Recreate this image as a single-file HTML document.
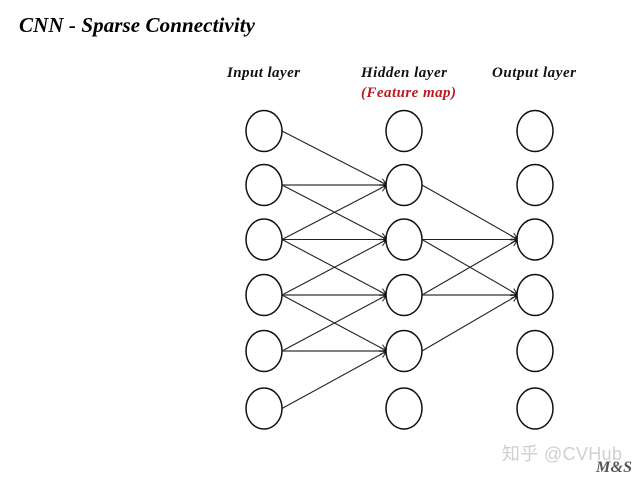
<!DOCTYPE html>
<html>
<head>
<meta charset="utf-8">
<style>
html,body{margin:0;padding:0;background:#fff;}
svg{display:block;}
.t{font-family:"Liberation Serif",serif;font-weight:bold;font-style:italic;}
</style>
</head>
<body>
<svg width="638" height="479" viewBox="0 0 638 479" xmlns="http://www.w3.org/2000/svg">
<defs>
<marker id="a" markerUnits="userSpaceOnUse" markerWidth="10" markerHeight="10" refX="9" refY="5" orient="auto">
<path d="M2,1.500 L9,5 L2,8.500" fill="none" stroke="#222" stroke-width="1"/>
<path d="M5.500,3.600 L9,5 L5.500,6.400 Z" fill="#111"/>
</marker>
</defs>
<rect width="638" height="479" fill="#fff"/>
<text class="t" x="19" y="32" font-size="21" fill="#000" textLength="236" lengthAdjust="spacing">CNN - Sparse Connectivity</text>
<text class="t" x="227" y="77" font-size="15" fill="#111" textLength="73" lengthAdjust="spacing">Input layer</text>
<text class="t" x="361" y="77" font-size="15" fill="#111" textLength="86" lengthAdjust="spacing">Hidden layer</text>
<text class="t" x="492" y="77" font-size="15" fill="#111" textLength="84" lengthAdjust="spacing">Output layer</text>
<text class="t" x="361" y="97" font-size="15" fill="#bb1a20" textLength="95" lengthAdjust="spacing">(Feature map)</text>

<g stroke="#222" stroke-width="1.100" fill="none">
<line x1="282" y1="131" x2="387" y2="185" marker-end="url(#a)"/>
<line x1="282" y1="185" x2="387" y2="185" marker-end="url(#a)" stroke="#555" stroke-width="1.500"/>
<line x1="282" y1="185" x2="387" y2="239.500" marker-end="url(#a)"/>
<line x1="282" y1="239.500" x2="387" y2="185" marker-end="url(#a)"/>
<line x1="282" y1="239.500" x2="387" y2="239.500" marker-end="url(#a)"/>
<line x1="282" y1="239.500" x2="387" y2="295" marker-end="url(#a)"/>
<line x1="282" y1="295" x2="387" y2="239.500" marker-end="url(#a)"/>
<line x1="282" y1="295" x2="387" y2="295" marker-end="url(#a)" stroke="#555" stroke-width="1.500"/>
<line x1="282" y1="295" x2="387" y2="351" marker-end="url(#a)"/>
<line x1="282" y1="351" x2="387" y2="295" marker-end="url(#a)"/>
<line x1="282" y1="351" x2="387" y2="351" marker-end="url(#a)" stroke="#555" stroke-width="1.500"/>
<line x1="282" y1="408.500" x2="387" y2="351" marker-end="url(#a)"/>
<line x1="422" y1="185" x2="518" y2="239.500" marker-end="url(#a)"/>
<line x1="422" y1="239.500" x2="518" y2="239.500" marker-end="url(#a)"/>
<line x1="422" y1="239.500" x2="518" y2="295" marker-end="url(#a)"/>
<line x1="422" y1="295" x2="518" y2="239.500" marker-end="url(#a)"/>
<line x1="422" y1="295" x2="518" y2="295" marker-end="url(#a)" stroke="#555" stroke-width="1.500"/>
<line x1="422" y1="351" x2="518" y2="295" marker-end="url(#a)"/>
</g>

<g fill="#fff" stroke="#111" stroke-width="1.500">
<ellipse cx="264" cy="131" rx="18" ry="20.500"/>
<ellipse cx="264" cy="185" rx="18" ry="20.500"/>
<ellipse cx="264" cy="239.500" rx="18" ry="20.500"/>
<ellipse cx="264" cy="295" rx="18" ry="20.500"/>
<ellipse cx="264" cy="351" rx="18" ry="20.500"/>
<ellipse cx="264" cy="408.500" rx="18" ry="20.500"/>
<ellipse cx="404" cy="131" rx="18" ry="20.500"/>
<ellipse cx="404" cy="185" rx="18" ry="20.500"/>
<ellipse cx="404" cy="239.500" rx="18" ry="20.500"/>
<ellipse cx="404" cy="295" rx="18" ry="20.500"/>
<ellipse cx="404" cy="351" rx="18" ry="20.500"/>
<ellipse cx="404" cy="408.500" rx="18" ry="20.500"/>
<ellipse cx="535" cy="131" rx="18" ry="20.500"/>
<ellipse cx="535" cy="185" rx="18" ry="20.500"/>
<ellipse cx="535" cy="239.500" rx="18" ry="20.500"/>
<ellipse cx="535" cy="295" rx="18" ry="20.500"/>
<ellipse cx="535" cy="351" rx="18" ry="20.500"/>
<ellipse cx="535" cy="408.500" rx="18" ry="20.500"/>
</g>

<text x="502" y="460" font-size="18" fill="#cfcfcf" font-family="&quot;Liberation Sans&quot;,&quot;Noto Sans CJK SC&quot;,sans-serif" textLength="120" lengthAdjust="spacing">知乎 @CVHub</text>
<text class="t" x="596" y="472" font-size="16" fill="#555" textLength="36" lengthAdjust="spacing">M&amp;S</text>
</svg>
</body>
</html>
